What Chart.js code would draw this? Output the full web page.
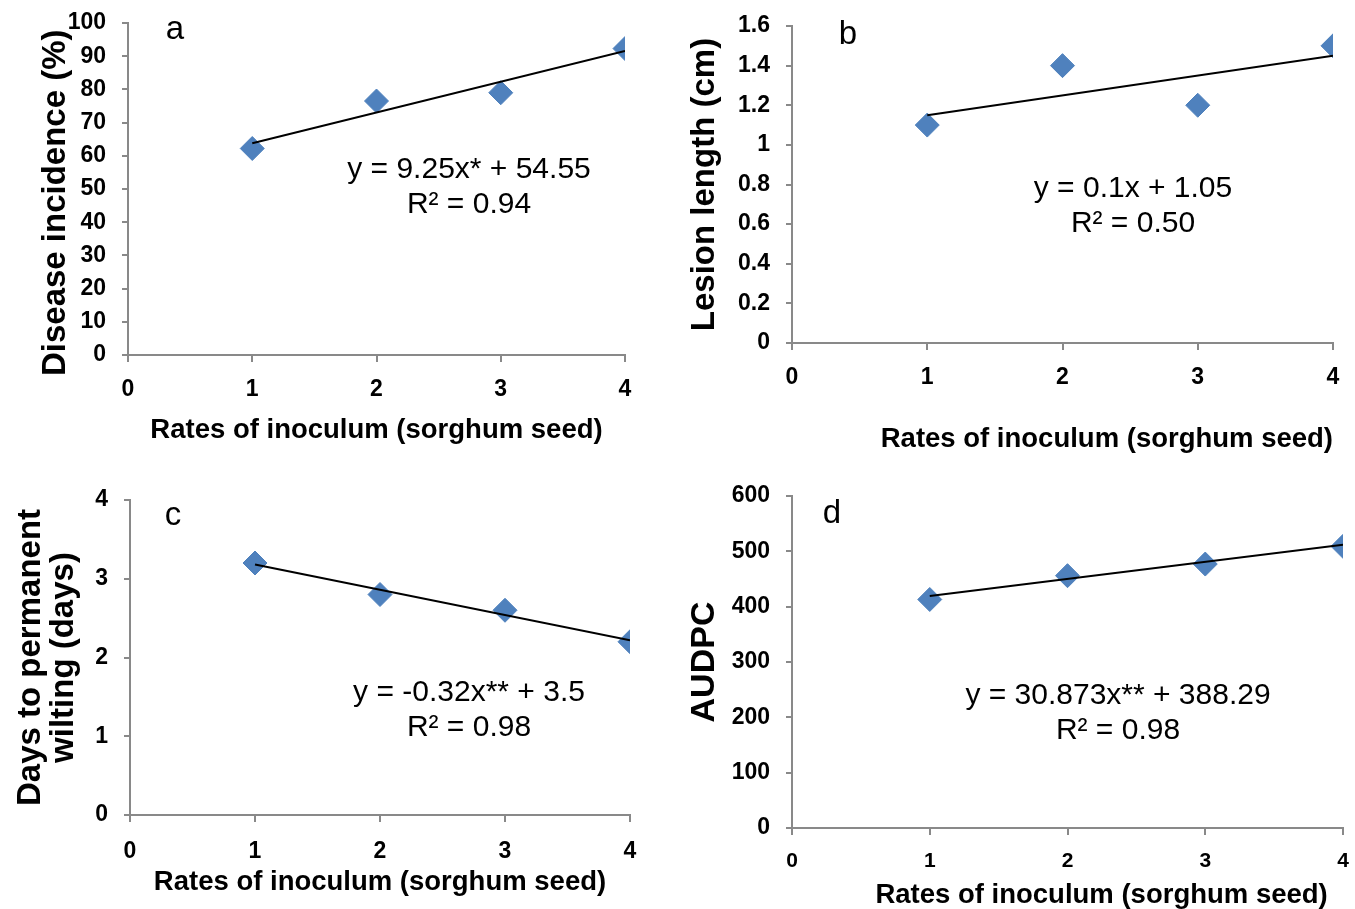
<!DOCTYPE html>
<html>
<head>
<meta charset="utf-8">
<title>Rates of inoculum</title>
<script src="https://cdn.jsdelivr.net/npm/chart.js@4.4.1/dist/chart.umd.min.js"></script>
<style>
    body { margin: 0; background: #fff; }
    #wrap { position: relative; width: 1355px; height: 909px; overflow: hidden; font-family: 'Liberation Sans', Arial, sans-serif; }
    #wrap canvas { position: absolute; }
    .note { position: absolute; transform: translate(-50%, -50%); text-align: center; white-space: nowrap; color: #000; }
    .letter { font-size: 33px; }
    .eq { font-size: 30px; line-height: 35px; }
</style>
</head>
<body>
<div id="wrap">
    <canvas id="chartA" width="680" height="450" style="left:0;top:0"></canvas>
    <canvas id="chartB" width="675" height="460" style="left:680px;top:0"></canvas>
    <canvas id="chartC" width="680" height="449" style="left:0;top:460px"></canvas>
    <canvas id="chartD" width="675" height="449" style="left:680px;top:460px"></canvas>

    <div class="note letter" style="left:175px;top:28px">a</div>
    <div class="note letter" style="left:848px;top:33px">b</div>
    <div class="note letter" style="left:173px;top:514px">c</div>
    <div class="note letter" style="left:832px;top:512px">d</div>

    <div class="note eq" style="left:469px;top:185px">y = 9.25x* + 54.55<br>R² = 0.94</div>
    <div class="note eq" style="left:1133px;top:204px">y = 0.1x + 1.05<br>R² = 0.50</div>
    <div class="note eq" style="left:469px;top:708px">y = -0.32x** + 3.5<br>R² = 0.98</div>
    <div class="note eq" style="left:1118px;top:711px">y = 30.873x** + 388.29<br>R² = 0.98</div>
</div>
<script>
// x values: rates of inoculum
const rates = [1, 2, 3, 4];
const trendX = [1, 4];

const incidence = [62.2, 76.5, 79, 92.3];
const lesion = [1.1, 1.4, 1.2, 1.5];
const wilting = [3.2, 2.8, 2.6, 2.2];
const audpc = [413, 456, 477, 509];

// trend line end points (at x = 1 and x = 4)
const incidenceFit = [63.8, 91.55];
const lesionFit = [1.15, 1.45];
const wiltingFit = [3.18, 2.22];
const audpcFit = [419.2, 511.8];

const xTitle = 'Rates of inoculum (sorghum seed)';
const axisGray = '#898989';
const markerBlue = '#4F81BD';
const fontFamily = "'Liberation Sans', Arial, sans-serif";

function toPoints(xs, ys) {
    return xs.map((x, i) => ({ x: x, y: ys[i] }));
}

// "1" instead of "1.0", like the original axis
function plainNumber(value) {
    return String(Math.round(value * 100) / 100);
}

// fixed axis size, and no extra room reserved for the edge labels
function fixSize(scale, prop, size) {
    scale[prop] = size;
    scale.paddingTop = 0;
    scale.paddingBottom = 0;
    scale.paddingLeft = 0;
    scale.paddingRight = 0;
}

function makeChart(id, cfg) {
    const ctx = document.getElementById(id).getContext('2d');

    const datasets = [
        {
            // trend line first so it is drawn on top of the markers
            data: toPoints(trendX, cfg.fit),
            showLine: true,
            borderColor: '#000',
            borderWidth: 2,
            pointRadius: 0,
            fill: false
        },
        {
            data: toPoints(rates, cfg.values),
            pointStyle: 'rectRot',
            pointRadius: 12,
            backgroundColor: markerBlue,
            borderColor: markerBlue,
            borderWidth: 1,
            showLine: false
        }
    ];

    return new Chart(ctx, {
        type: 'scatter',
        data: { datasets: datasets },
        options: {
            responsive: false,
            animation: false,
            devicePixelRatio: 1,
            layout: { autoPadding: false, padding: { top: cfg.top, right: cfg.right, left: 0, bottom: 0 } },
            plugins: { legend: { display: false }, tooltip: { enabled: false } },
            scales: {
                x: {
                    type: 'linear',
                    min: 0,
                    max: 4,
                    ticks: {
                        stepSize: 1,
                        color: '#000',
                        padding: cfg.xTickPad,
                        font: { family: fontFamily, size: cfg.xTickSize || 23, weight: 'bold' }
                    },
                    grid: { drawOnChartArea: false, drawTicks: true, tickLength: 7, color: axisGray, lineWidth: 2 },
                    border: { display: true, color: axisGray, width: 2 },
                    title: {
                        display: true,
                        text: xTitle + (cfg.xTitleTail || ''),
                        align: cfg.xTitleAlign || 'center',
                        color: '#000',
                        font: { family: fontFamily, size: 27.5, weight: 'bold', lineHeight: 1 },
                        padding: { top: 0, bottom: cfg.xTitlePad }
                    },
                    afterFit: function(scale) { fixSize(scale, 'height', cfg.xHeight); }
                },
                y: {
                    type: 'linear',
                    min: 0,
                    max: cfg.max,
                    ticks: {
                        stepSize: cfg.step,
                        color: '#000',
                        padding: 16,
                        callback: plainNumber,
                        font: { family: fontFamily, size: 23, weight: 'bold' }
                    },
                    grid: { drawOnChartArea: false, drawTicks: true, tickLength: 6, color: axisGray, lineWidth: 2 },
                    border: { display: true, color: axisGray, width: 2 },
                    title: {
                        display: true,
                        text: cfg.yTitle,
                        color: '#000',
                        font: { family: fontFamily, size: cfg.yTitleSize || 33, weight: 'bold', lineHeight: 1 },
                        padding: { top: cfg.yTitlePad, bottom: 0 }
                    },
                    afterFit: function(scale) { fixSize(scale, 'width', cfg.yWidth); }
                }
            }
        }
    });
}

makeChart('chartA', {
    values: incidence, fit: incidenceFit, max: 100, step: 10,
    // trailing spaces push the rotated title a little lower, as in the original
    yTitle: 'Disease incidence (%)   ',
    top: 23, right: 55, yWidth: 128, xHeight: 95, xTitlePad: 6, yTitlePad: 39, xTickPad: 14
});

makeChart('chartB', {
    values: lesion, fit: lesionFit, max: 1.6, step: 0.2,
    yTitle: 'Lesion length (cm)',
    top: 26, right: 22, yWidth: 112, xHeight: 117, xTitlePad: 7, yTitlePad: 8, xTickPad: 14,
    xTitleAlign: 'end'
});

makeChart('chartC', {
    values: wilting, fit: wiltingFit, max: 4, step: 1,
    yTitle: ['Days to permanent', 'wilting (days)'],
    top: 40, right: 50, yWidth: 130, xHeight: 94, xTitlePad: 13, yTitlePad: 14, xTickPad: 16
});

makeChart('chartD', {
    values: audpc, fit: audpcFit, max: 600, step: 100,
    yTitle: 'AUDPC', yTitleSize: 34,
    top: 36, right: 12, yWidth: 112, xHeight: 81, xTitlePad: 0, yTitlePad: 8, xTickPad: 14,
    xTitleAlign: 'end', xTitleTail: '  ', xTickSize: 21
});
</script>
</body>
</html>
